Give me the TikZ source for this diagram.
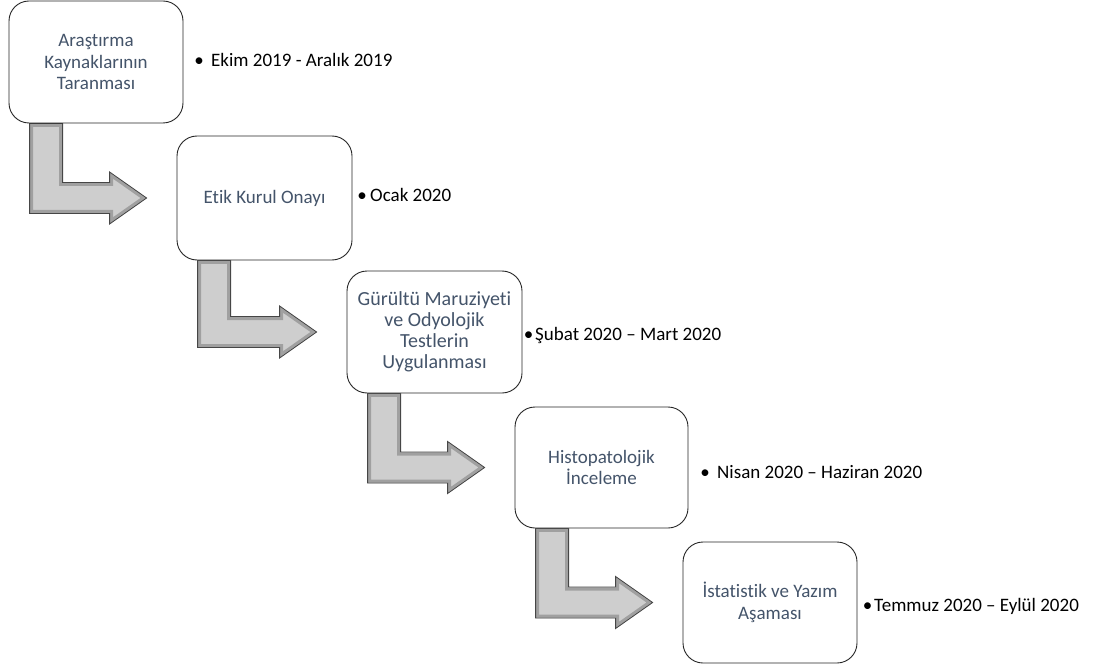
\documentclass[tikz,border=0pt]{standalone}
\usepackage{fontspec}
\setmainfont[Ligatures=NoCommon]{Carlito}
\usetikzlibrary{calc,backgrounds}
\definecolor{boxtext}{RGB}{68,84,106}
\definecolor{arrowfill}{RGB}{206,206,206}
\definecolor{arrowedge}{RGB}{70,70,70}
\definecolor{arrowshade}{RGB}{160,160,160}
\tikzset{
  stepbox/.style={draw=black!85, line width=0.9pt, fill=white, rounded corners=20pt,
    minimum width=174pt, minimum height=122pt, align=center, text=boxtext,
    font=\fontsize{19}{21.5}\selectfont, inner sep=2pt},
  datelabel/.style={anchor=base west, inner sep=0pt, font=\fontsize{19}{21.5}\selectfont, text=black},
  flowedge/.style={draw=arrowedge, line width=0.9pt, line join=miter},
}
\newcommand{\bulletat}[1]{\llap{\makebox[0pt]{•}\hspace{#1pt}}}
\newcommand{\flowpath}[1]{(#1a)--(#1b)--(#1c)--(#1d)--(#1e)--(#1f)--(#1g)--(#1h)--(#1i)--cycle}
\newcommand{\stepflow}[3]{%
  \path let \p1=(#1.south west), \p2=(#2.west) in
    (\x1+21pt,\y1) coordinate (#3a)
    (\x1+21pt,\y2-15.5pt) coordinate (#3b)
    (\x2-67pt,\y2-15.5pt) coordinate (#3c)
    (\x2-67pt,\y2-26pt) coordinate (#3d)
    (\x2-30pt,\y2) coordinate (#3e)
    (\x2-67pt,\y2+26pt) coordinate (#3f)
    (\x2-67pt,\y2+15.5pt) coordinate (#3g)
    (\x1+54pt,\y2+15.5pt) coordinate (#3h)
    (\x1+54pt,\y1) coordinate (#3i);
  \begin{scope}
    \clip \flowpath{#3};
    \fill[arrowfill] \flowpath{#3};
    \draw[arrowshade, line width=7pt, line join=miter] \flowpath{#3};
    \draw[arrowfill!60!white, line width=0.8pt, line join=miter, shift={(1pt,1pt)}] \flowpath{#3};
  \end{scope}
  \draw[flowedge] \flowpath{#3};
}
\begin{document}
\begin{tikzpicture}[x=1pt,y=-1pt]
\useasboundingbox (0,0) rectangle (1094,668);
\node[stepbox] (b1) at (96,62) {Araştırma\\Kaynaklarının\\Taranması};
\node[stepbox, minimum width=175pt, minimum height=124pt] (b2) at (264.5,198) {Etik Kurul Onayı};
\node[stepbox, minimum width=175pt, font=\fontsize{20}{21}\selectfont] (b3) at (434.5,332) {Gürültü Maruziyeti\\ve Odyolojik\\Testlerin\\Uygulanması};
\node[stepbox, minimum width=173pt, minimum height=121pt] (b4) at (601.5,467.5) {Histopatolojik\\İnceleme};
\node[stepbox, minimum height=121pt] (b5) at (770,602.5) {İstatistik ve Yazım\\Aşaması};
\begin{scope}[on background layer]
\stepflow{b1}{b2}{fa}
\stepflow{b2}{b3}{fb}
\stepflow{b3}{b4}{fc}
\stepflow{b4}{b5}{fd}
\end{scope}
\node[datelabel] (d1) at (211,67) {\bulletat{12}Ekim 2019 - Aralık 2019};
\node[datelabel] (d2) at (370,202) {\bulletat{8}Ocak 2020};
\node[datelabel] (d3) at (535,340) {\bulletat{6.5}Şubat 2020 – Mart 2020};
\node[datelabel] (d4) at (717,478) {\bulletat{12}Nisan 2020 – Haziran 2020};
\node[datelabel] (d5) at (874,611) {\bulletat{6.5}Temmuz 2020 – Eylül 2020};
\end{tikzpicture}
\end{document}
